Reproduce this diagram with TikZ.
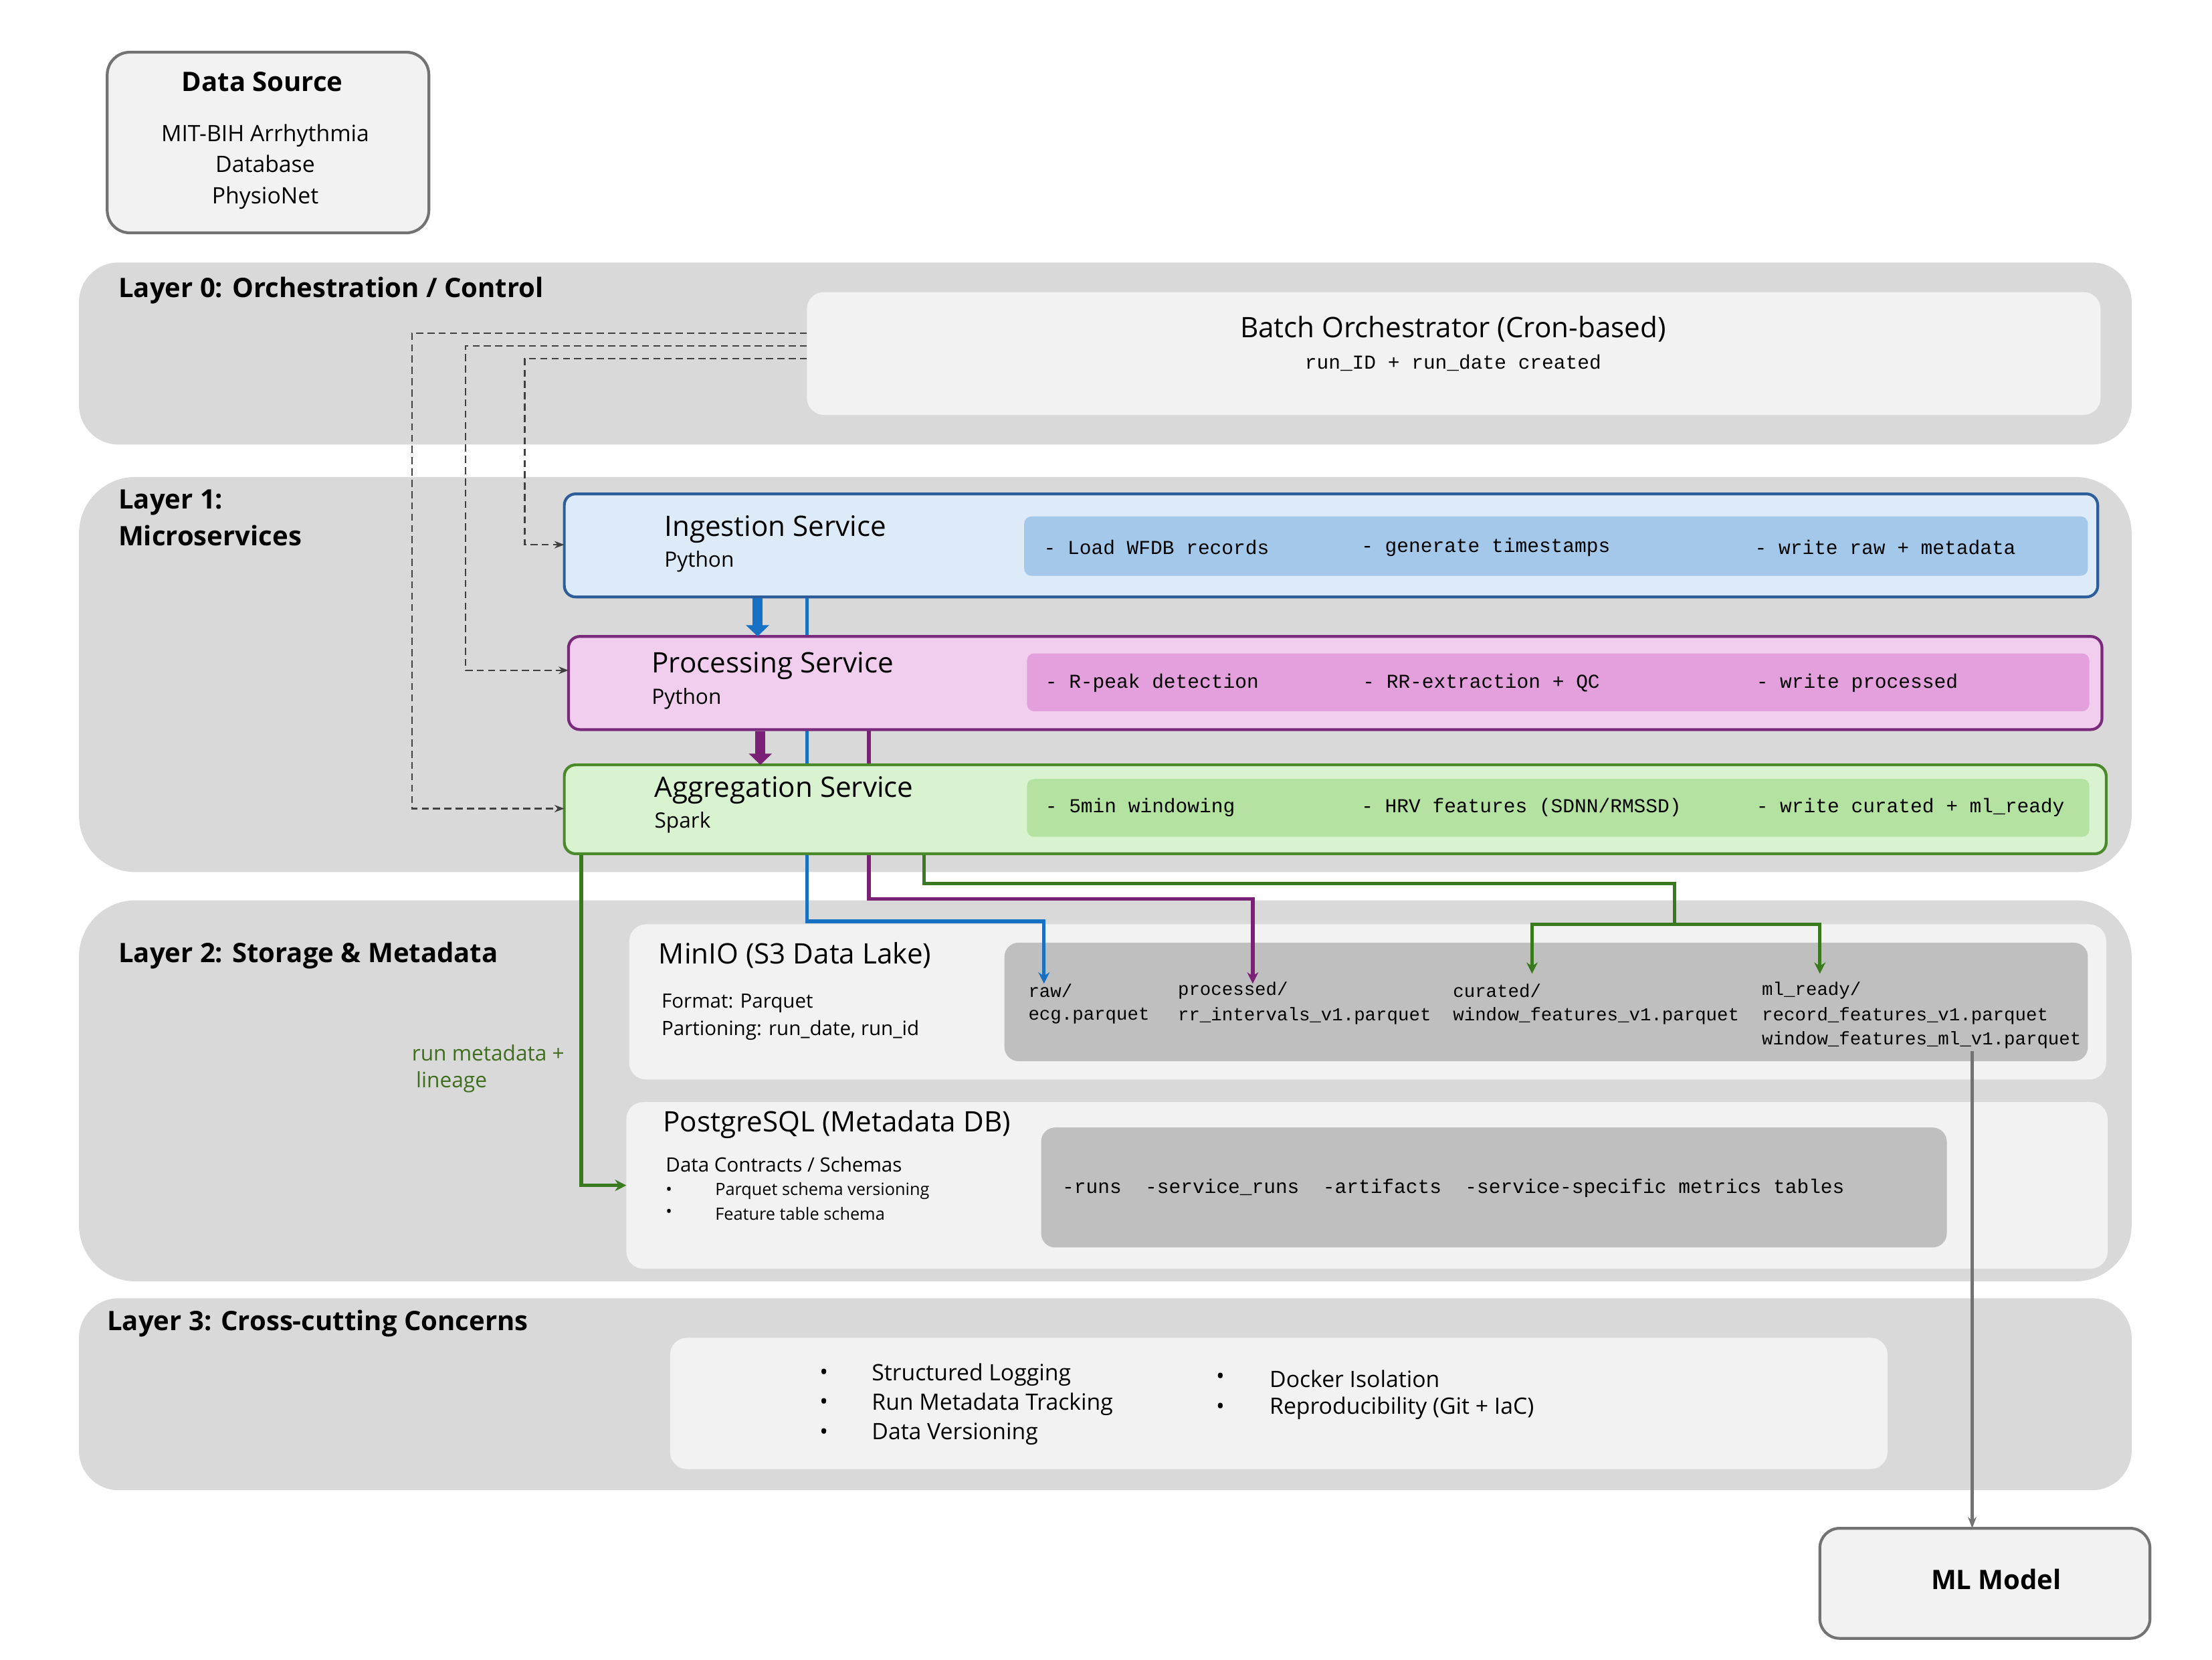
\documentclass[tikz,border=0pt]{standalone}
\usepackage{fontspec}
\setmainfont{Open Sans}
\newfontfamily\mono{Liberation Mono}
\usetikzlibrary{arrows.meta,calc}
\definecolor{band}{HTML}{D9D9D9}
\definecolor{light}{HTML}{F2F2F2}
\definecolor{midg}{HTML}{BFBFBF}
\definecolor{ingf}{HTML}{DDEAF7}
\definecolor{ingb}{HTML}{2E5E9A}
\definecolor{ingi}{HTML}{A4C8EA}
\definecolor{proff}{HTML}{F2CEEE}
\definecolor{profb}{HTML}{7A2A7A}
\definecolor{proi}{HTML}{E3A0DD}
\definecolor{aggf}{HTML}{D9F2D0}
\definecolor{aggb}{HTML}{4A8A2A}
\definecolor{aggi}{HTML}{B4E3A1}
\definecolor{bluel}{HTML}{1670C4}
\definecolor{purl}{HTML}{7A2077}
\definecolor{grnl}{HTML}{3A7A1E}
\definecolor{grnt}{HTML}{3E6E1E}
\begin{document}
\begin{tikzpicture}[x=1pt,y=-1pt,
  every node/.style={inner sep=0pt,outer sep=0pt},
  lbl/.style={anchor=west,font=\fontsize{19}{22}\selectfont\bfseries},
  ttl/.style={anchor=west,font=\fontsize{20}{24}\selectfont},
  sub/.style={anchor=west,font=\fontsize{15}{18}\selectfont},
  mt/.style={anchor=west,font=\mono\fontsize{14}{16}\selectfont},
  ms/.style={anchor=west,font=\mono\fontsize{13}{15}\selectfont},
  ctl/.style={draw=black!75,dash pattern=on 5pt off 3pt,line width=1.1pt,-{Stealth[length=7pt]}},
  conn/.style={line width=2.6pt,-{Stealth[length=8pt,width=8pt]}},
  fat/.style={line width=7pt,-{Triangle[length=8pt,width=16pt]}}]
\useasboundingbox[fill=white] (0,0) rectangle (1568,1176);
% bands
\fill[band,rounded corners=28pt] (56,186) rectangle (1511,315);
\fill[band,rounded corners=40pt] (56,338) rectangle (1511,618);
\fill[band,rounded corners=40pt] (56,638) rectangle (1511,908);
\fill[band,rounded corners=28pt] (56,920) rectangle (1511,1056);
\node[lbl] at (84,206) {Layer 0: Orchestration / Control};
\node[lbl,align=left,anchor=north west,font=\fontsize{19}{26}\selectfont\bfseries] at (84,347) {Layer 1:\\Microservices};
\node[lbl] at (84,677) {Layer 2: Storage \& Metadata};
\node[lbl] at (76,938) {Layer 3: Cross-cutting Concerns};
% data source
\node[draw=black!55,line width=2pt,fill=light,rounded corners=16pt,minimum width=228pt,minimum height=128pt] (src) at (190,101) {};
\node[font=\fontsize{19}{22}\selectfont\bfseries] at (186,58) {Data Source};
\node[font=\fontsize{16}{22}\selectfont,align=center] at (188,118) {MIT-BIH Arrhythmia\\Database\\PhysioNet};
% orchestrator
\node[fill=light,rounded corners=12pt,minimum width=917pt,minimum height=87pt] (orch) at (1030.5,250.5) {};
\node[font=\fontsize{20}{24}\selectfont] at (1030,233) {Batch Orchestrator (Cron-based)};
\node[font=\mono\fontsize{14}{16}\selectfont] at (1030,257) {run\_ID + run\_date created};
% connectors behind service boxes
\draw[bluel,conn] (572,423) -- (572,653) -- (740,653) -- (740,697);
\draw[purl,conn] (616,517) -- (616,637) -- (888,637) -- (888,697);
% services
\node[draw=ingb,line width=2pt,fill=ingf,rounded corners=8pt,minimum width=1087pt,minimum height=73pt] (ing) at (943.5,386.5) {};
\fill[ingi,rounded corners=5pt] (726,366) rectangle (1480,408);
\node[ttl] at (471,375) {Ingestion Service};
\node[sub] at (471,398) {Python};
\node[mt] at (740,388) {- Load WFDB records};
\node[mt] at (965,388) {- generate timestamps};
\node[mt] at (1244,388) {- write raw + metadata};
\node[draw=profb,line width=2pt,fill=proff,rounded corners=8pt,minimum width=1087pt,minimum height=66pt] (pro) at (946.5,484) {};
\fill[proi,rounded corners=5pt] (728,463) rectangle (1481,504);
\node[ttl] at (462,472) {Processing Service};
\node[sub] at (462,495) {Python};
\node[mt] at (741,484) {- R-peak detection};
\node[mt] at (966,484) {- RR-extraction + QC};
\node[mt] at (1245,484) {- write processed};
\node[draw=aggb,line width=2pt,fill=aggf,rounded corners=8pt,minimum width=1093pt,minimum height=63pt] (agg) at (946.5,573.5) {};
\fill[aggi,rounded corners=5pt] (728,552) rectangle (1481,593);
\node[ttl] at (464,560) {Aggregation Service};
\node[sub] at (464,583) {Spark};
\node[mt] at (741,572) {- 5min windowing};
\node[mt] at (965,572) {- HRV features (SDNN/RMSSD)};
\node[mt] at (1245,572) {- write curated + ml\_ready};
% visible segments between service boxes
\draw[bluel,line width=2.6pt] (572,424) -- (572,450);
\draw[bluel,line width=2.6pt] (572,518) -- (572,541);
\draw[purl,line width=2.6pt] (616,518) -- (616,541);
\draw[bluel,fat] (537,424) -- (537,451);
\draw[purl,fat] (539,518) -- (539,542);
% dashed control
\draw[ctl] (orch.west |- 0,254) -- (372,254) -- (372,386) -- (ing.west |- 0,386);
\draw[ctl] (orch.west |- 0,245) -- (330,245) -- (330,475) -- (pro.west |- 0,475);
\draw[ctl] (orch.west |- 0,236) -- (292,236) -- (292,573) -- (agg.west |- 0,573);
% storage
\node[fill=light,rounded corners=12pt,minimum width=1047pt,minimum height=110pt] (minio) at (969.5,710) {};
\fill[midg,rounded corners=10pt] (712,668) rectangle (1480,752);
\node[ttl] at (467,677) {MinIO (S3 Data Lake)};
\node[anchor=west,font=\fontsize{14}{17}\selectfont] at (469,711) {Format: Parquet};
\node[anchor=west,font=\fontsize{14}{17}\selectfont] at (469,730) {Partioning: run\_date, run\_id};
\node[ms] (raw) at (729,702) {raw/};
\node[ms] at (729,720) {ecg.parquet};
\node[ms] (proc) at (835,702) {processed/};
\node[ms] at (835,720) {rr\_intervals\_v1.parquet};
\node[ms] (cur) at (1030,702) {curated/};
\node[ms] at (1030,720) {window\_features\_v1.parquet};
\node[ms] (ml) at (1249,702) {ml\_ready/};
\node[ms] at (1249,720) {record\_features\_v1.parquet};
\node[ms] at (1249,737) {window\_features\_ml\_v1.parquet};
% re-draw arrow ends over minio
\draw[bluel,conn] (740,653) -- (740,697);
\draw[purl,conn] (888,637) -- (888,697);
\node[fill=light,rounded corners=12pt,minimum width=1050pt,minimum height=118pt] (pg) at (969,840) {};
\fill[midg,rounded corners=10pt] (738,799) rectangle (1380,884);
\node[ttl] at (470,797) {PostgreSQL (Metadata DB)};
\node[anchor=west,font=\fontsize{14}{17}\selectfont] at (472,825) {Data Contracts / Schemas};
\node[anchor=west,font=\fontsize{12}{14}\selectfont] at (472,844) {•};
\node[anchor=west,font=\fontsize{12}{14}\selectfont] at (507,844) {Parquet schema versioning};
\node[anchor=west,font=\fontsize{12}{14}\selectfont] at (472,860) {•};
\node[anchor=west,font=\fontsize{12}{14}\selectfont] at (507,860) {Feature table schema};
\node[mt] at (753,842) {-runs\ \ -service\_runs\ \ -artifacts\ \ -service-specific metrics tables};
\node[anchor=west,grnt,font=\fontsize{15}{18}\selectfont] at (292,746) {run metadata +};
\node[anchor=west,grnt,font=\fontsize{15}{18}\selectfont] at (295,767) {lineage};
% green connectors
\draw[grnl,line width=2.6pt] (655,606) -- (655,626) -- (1187,626) -- (1187,655);
\draw[grnl,conn] (1187,655) -- (1086,655) -- (1086,690);
\draw[grnl,conn] (1187,655) -- (1290,655) -- (1290,690);
\draw[grnl,conn] (412,606) -- (412,840) -- (pg.west |- 0,840);
% layer 3
\fill[light,rounded corners=12pt] (475,948) rectangle (1338,1041);
\foreach \y/\t in {974/Structured Logging,995/Run Metadata Tracking,1016/Data Versioning}{
  \node[anchor=west,font=\fontsize{16}{19}\selectfont] at (581,\y) {•};
  \node[anchor=west,font=\fontsize{16}{19}\selectfont] at (618,\y) {\t};}
\foreach \y/\t in {977/Docker Isolation,998/Reproducibility (Git + IaC)}{
  \node[anchor=west,font=\fontsize{16}{19}\selectfont] at (862,\y) {•};
  \node[anchor=west,font=\fontsize{16}{19}\selectfont] at (900,\y) {\t};}
% ML model
\node[draw=black!55,line width=2pt,fill=light,rounded corners=14pt,minimum width=234pt,minimum height=78pt] (mlm) at (1407,1122) {};
\node[font=\fontsize{19}{22}\selectfont\bfseries] at (1415,1119) {ML Model};
\draw[black!55,line width=2pt,-{Stealth[length=8pt]}] (1398,745) -- (mlm.north -| 1398,0);
\end{tikzpicture}
\end{document}
